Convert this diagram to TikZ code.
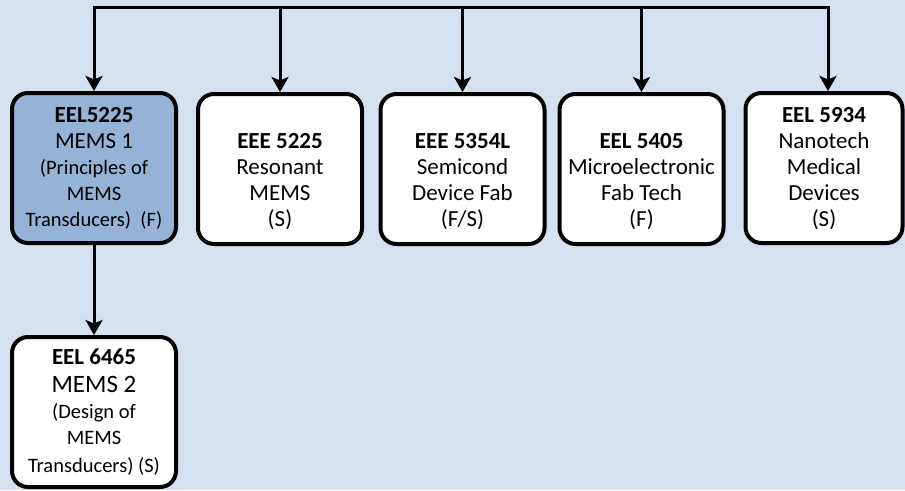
\documentclass[tikz,border=0pt]{standalone}
\usepackage{fontspec}
\setmainfont{Carlito}
\usetikzlibrary{arrows.meta}
\definecolor{bgc}{HTML}{D5E1EF}
\definecolor{blu}{HTML}{95B3D7}
\newcommand{\smalltxt}{\fontsize{20.5}{26}\selectfont}
\newcommand{\toprule}{\rule{0pt}{16pt}}
\newcommand{\blankline}{\rule{0pt}{14pt}}
\begin{document}
\begin{tikzpicture}[x=1pt,y=-1pt,
  course/.style={draw=black, line width=4pt, rounded corners=16pt, fill=white,
    minimum width=164pt, minimum height=150pt, inner sep=0pt, align=center,
    font=\fontsize{23}{26}\selectfont},
  conn/.style={line width=3pt, -{Stealth[length=15pt,width=17pt,inset=3.5pt]}}]
\fill[bgc] (0,0) rectangle (905,490);
\useasboundingbox (0,0) rectangle (905,490);
\node[course, fill=blu] (b1) at (94,168)
  {\toprule\textbf{EEL5225}\\MEMS 1\\{\smalltxt (Principles of}\\{\smalltxt MEMS}\\{\smalltxt Transducers)\ \ (F)}};
\node[course] (b2) at (280,169) {\blankline\\\textbf{EEE 5225}\\Resonant\\MEMS\\(S)};
\node[course] (b3) at (462.5,169) {\blankline\\\textbf{EEE 5354L}\\Semicond\\Device Fab\\(F/S)};
\node[course] (b4) at (641.5,169) {\blankline\\\textbf{EEL 5405}\\Microelectronic\\Fab Tech\\(F)};
\node[course, minimum width=157pt] (b5) at (824,168)
  {\toprule\textbf{EEL 5934}\\Nanotech\\Medical\\Devices\\(S)};
\node[course] (b6) at (94,412)
  {\toprule\textbf{EEL 6465}\\[2pt]{\fontsize{25}{26}\selectfont MEMS 2}\\{\smalltxt (Design of}\\{\smalltxt MEMS}\\[2pt]{\smalltxt Transducers)\ (S)}};
\coordinate (t1) at (94,7);
\coordinate (t5) at (828,7);
\draw[conn] (t5) -- (t1) -- (b1.north);
\draw[conn] (t1) -- (t5) -- (t5 |- b5.north);
\draw[conn] (b2.north |- t1) -- (b2.north);
\draw[conn] (b3.north |- t1) -- (b3.north);
\draw[conn] (b4.north |- t1) -- (b4.north);
\draw[conn] (b1.south) -- (b6.north);
\end{tikzpicture}
\end{document}
